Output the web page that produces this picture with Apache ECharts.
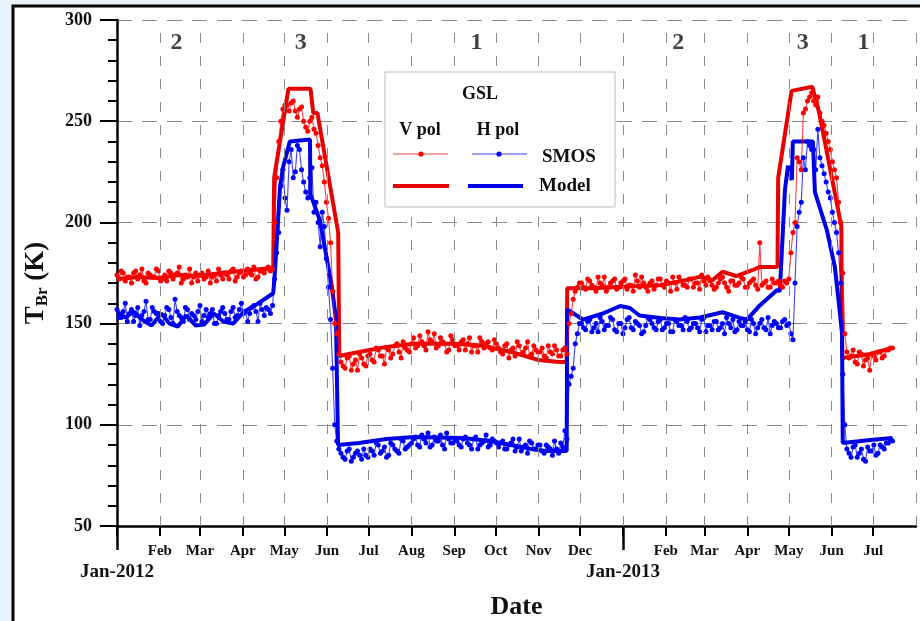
<!DOCTYPE html>
<html>
<head>
<meta charset="utf-8">
<title>GSL TBr</title>
<script src="https://cdn.jsdelivr.net/npm/echarts@6/dist/echarts.min.js"></script>
<style>
  html, body { margin: 0; padding: 0; background: #eaf3fb; }
  #main { width: 920px; height: 621px; }
</style>
</head>
<body>
<div id="main"></div>
<script>
// days are counted from 2012-01-01
var T0 = new Date(2012, 0, 1).getTime();
var DAY = 86400000;
function t(d) { return T0 + d * DAY; }
function ts(s) { var p = s.split('-'); return new Date(+p[0], p[1] - 1, +p[2]).getTime(); }

var monthTicks = ['2012-01-01','2012-02-01','2012-03-01','2012-04-01','2012-05-01','2012-06-01','2012-07-01',
  '2012-08-01','2012-09-01','2012-10-01','2012-11-01','2012-12-01','2013-01-01','2013-02-01','2013-03-01',
  '2013-04-01','2013-05-01','2013-06-01','2013-07-01'];
var tickLabels = ['','Feb','Mar','Apr','May','Jun','Jul','Aug','Sep','Oct','Nov','Dec',
  '','Feb','Mar','Apr','May','Jun','Jul'];
var yearTicks = ['2012-01-01', '2013-01-01'];
var yearLabels = ['Jan-2012', 'Jan-2013'];

var regionLabels = ['2', '3', '1', '2', '3', '1'];
var regionDays = [43, 133, 260, 406, 496, 540];

// SMOS observations: pass A every 3 days from day 0, pass B every 3 days from day 1.5
var smosStep = 3;
var smosV = [
  174,176,171,173,175,172,177,170,174,173,176,172,171,175,174,178,172,173,170,175,
  174,172,176,173,171,174,175,172,177,173,176,174,175,178,173,176,177,176,
  200,240,256,258,259,255,256,250,245,252,244,232,220,202,166,145,
  131,128,134,130,127,133,129,135,131,137,134,138,133,139,136,141,137,
  140,138,144,139,146,141,138,143,140,137,142,139,141,137,143,139,136,141,140,138,142,
  138,135,140,137,134,139,136,141,135,137,136,134,139,135,137,134,138,
  150,162,168,
  170,167,171,168,173,169,166,170,172,168,171,167,169,174,168,170,166,171,169,172,
  168,170,173,167,171,169,172,168,170,174,169,171,167,170,173,168,171,169,170,172,
  168,171,169,190,170,168,172,
  170,169,171,172,195,232,226,256,262,260,262,250,244,236,226,210,175,
  136,134,131,136,129,133,135,132,136,134,137,138
];
var smosVb = [
  172,175,173,170,176,174,171,175,173,177,171,174,176,172,175,170,174,177,173,171,
  175,173,170,174,177,172,174,176,171,175,173,177,174,172,176,175,178,177,
  222,250,258,255,260,252,257,247,250,246,238,228,210,190,150,135,
  129,133,127,132,135,130,134,132,138,134,130,137,135,140,133,138,136,
  143,139,141,137,142,145,139,141,136,144,139,137,142,140,136,139,143,138,141,137,140,
  136,139,133,138,141,135,138,134,139,136,138,133,136,139,134,137,135,
  155,166,170,
  168,172,169,166,170,173,168,171,167,170,172,169,166,171,173,168,170,167,172,169,
  171,166,170,173,169,168,172,170,167,171,173,169,168,172,170,166,171,169,173,168,
  170,172,167,169,171,168,170,
  171,168,170,185,200,230,254,260,264,258,254,248,240,230,222,200,145,
  133,137,130,135,132,127,134,136,133,137,138
];
var smosH = [
  157,153,160,155,151,158,154,161,152,156,155,150,158,153,162,154,151,157,155,152,
  159,154,153,157,150,156,155,152,158,154,160,156,155,159,151,157,158,155,
  172,195,226,206,236,225,236,220,212,227,210,188,198,168,128,92,
  86,83,88,84,87,83,85,88,85,90,87,84,91,88,86,92,89,
  91,94,89,93,96,90,92,95,88,93,91,92,89,94,90,93,88,91,95,90,92,
  89,92,88,91,87,93,89,86,91,88,90,86,89,85,88,91,97,
  120,128,145,
  150,147,152,148,146,151,149,153,147,150,145,152,148,151,149,146,153,150,147,152,
  148,150,146,151,149,153,147,150,148,152,146,149,151,147,150,153,148,146,151,149,
  147,152,145,150,148,153,149,
  150,148,152,150,142,198,210,226,238,236,246,228,220,212,200,185,125,
  88,84,90,86,83,89,87,85,90,88,91,92
];
var smosHb = [
  153,156,151,157,154,149,156,152,158,155,151,154,157,150,156,153,158,152,154,156,
  151,157,155,150,154,158,152,156,153,157,155,151,158,156,160,154,157,159,
  185,218,212,230,222,238,226,215,222,205,200,205,182,152,100,88,
  84,87,82,86,85,88,84,87,91,86,89,85,90,87,93,88,90,
  93,90,95,91,89,94,92,90,96,91,93,90,93,91,88,94,90,92,89,93,91,
  91,88,90,93,89,87,90,92,88,90,87,90,88,92,86,89,93,
  124,140,150,
  148,151,146,150,153,147,149,152,146,150,148,153,147,150,145,149,152,148,151,147,
  150,146,152,149,147,151,148,150,146,153,149,147,151,148,145,150,152,147,149,151,
  146,150,148,152,147,145,151,
  148,151,149,145,170,205,232,240,236,226,232,224,215,205,195,170,100,
  86,89,84,88,82,87,90,86,89,91,93
];

// model curves (day, value)
var modelVDays = [0,15,30,45,60,75,90,105,113,
  113.7,124,140,142,145,160,160.8,
  175,195,215,245,265,285,305,320,325.3,
  325.7,344,369,393,412,422,431,438,448,460,465,477.8,
  478.3,488,503,508,524,524.6,
  545,561];
var modelV = [172,173,172.5,174,173.5,175,176,177,177.5,
  222,266,266,254,254,195,134,
  136,138.5,140,140,139,136,132,131,131,
  167.5,167.5,168.3,169,171.5,173.2,171.5,175.6,173.5,176.5,178,178,
  222,265,267,254,198,133,
  135,138];
var modelHDays = [0,6,12,18,25,32,38,44,50,57,63,70,77,84,92,100,113,
  114.3,117.9,120,125,139.6,139.9,146.8,155.5,158.4,159.9,
  175,195,215,250,270,285,300,310,325.3,
  325.7,337,351.5,364,371,378,393,407,421.7,438,450.6,455.7,465,477.5,
  479.5,483.2,485.4,488.2,488.9,503.4,504.9,513.6,519.3,523,524.5,525,
  545,561];
var modelH = [156,153,156,152,149,155,150,148.5,154,149,149.5,155,151,150,156,159,165,
  176,217,227,240,241,214,201,168,152,90,
  91,93,94,93.5,92,90,88,87,87,
  157,152,155,158.7,157.7,154,152.8,152,153,155.6,152.8,152,159,166.6,
  166,216,228,221,240,240,215,196,178,155,145,91,
  92.5,93.5];

var FONT = "'Liberation Serif', 'DejaVu Serif', serif";
var monthVals = monthTicks.map(ts);
var yearVals = yearTicks.map(ts);
var xMin = ts('2012-01-01'), xMax = ts('2013-08-01');

function pairs(days, vals) {
  return vals.map(function (v, i) { return [t(days[i]), v]; });
}
function smosSeries(a, b) {
  var out = a.map(function (v, i) { return [t(i * smosStep), v]; });
  b.forEach(function (v, i) { out.push([t(i * smosStep + 1.5), v]); });
  out.sort(function (p, q) { return p[0] - q[0]; });
  return out;
}

var myChart = echarts.init(document.getElementById('main'), null, { renderer: 'canvas' });

var option = {
  animation: false,
  backgroundColor: 'transparent',
  grid: { left: 117, right: 4, top: 20, bottom: 95, outerBoundsMode: 'none', containLabel: false },
  xAxis: [{
    type: 'value',
    min: xMin,
    max: xMax,
    axisLine: { show: true, onZero: false, lineStyle: { color: '#000', width: 2.5 } },
    axisTick: { show: true, customValues: monthVals, length: 10, lineStyle: { color: '#000', width: 2 } },
    axisLabel: {
      customValues: monthVals,
      showMinLabel: true,
      margin: 18,
      color: '#111',
      fontFamily: FONT,
      fontWeight: 'bold',
      fontSize: 15,
      hideOverlap: false,
      formatter: function (val) {
        var k = monthVals.indexOf(val);
        return k >= 0 ? tickLabels[k] : '';
      }
    },
    splitLine: { show: false },
    name: 'Date',
    nameLocation: 'middle',
    nameGap: 68,
    nameTextStyle: { fontSize: 26, fontWeight: 'bold', fontFamily: FONT, color: '#111' }
  }, {
    type: 'value',
    min: xMin,
    max: xMax,
    position: 'bottom',
    axisLine: { show: false, onZero: false },
    axisTick: { show: true, customValues: yearVals, length: 24, lineStyle: { color: '#000', width: 2.5 } },
    axisLabel: {
      customValues: yearVals,
      showMinLabel: true,
      margin: 37,
      color: '#111',
      fontFamily: FONT,
      fontWeight: 'bold',
      fontSize: 19,
      hideOverlap: false,
      formatter: function (val) {
        var k = yearVals.indexOf(val);
        return k >= 0 ? yearLabels[k] : '';
      }
    },
    splitLine: { show: false }
  }],
  yAxis: {
    type: 'value',
    min: 50,
    max: 300,
    interval: 50,
    axisLine: { show: true, lineStyle: { color: '#000', width: 2.5 } },
    axisTick: { show: true, length: 17, lineStyle: { color: '#000', width: 2 } },
    minorTick: { show: true, splitNumber: 5, length: 9, lineStyle: { color: '#000', width: 2 } },
    axisLabel: { margin: 25, color: '#111', fontFamily: FONT, fontWeight: 'bold', fontSize: 18 },
    splitLine: { show: true, lineStyle: { color: '#8a8a8a', width: 1, type: [15, 10] } },
    name: '{a|T}{b|Br}{a| (K)}',
    nameLocation: 'middle',
    nameRotate: 90,
    nameGap: 66,
    nameTextStyle: {
      padding: [0, 20, 0, 0],
      rich: {
        a: { fontSize: 27, fontWeight: 'bold', fontFamily: FONT, color: '#111', lineHeight: 30 },
        b: { fontSize: 17, fontWeight: 'bold', fontFamily: FONT, color: '#111', lineHeight: 14, verticalAlign: 'bottom' }
      }
    }
  },
  series: [{
    name: 'Model V',
    type: 'line',
    data: pairs(modelVDays, modelV),
    symbol: 'none',
    lineStyle: { color: '#e60000', width: 4 },
    z: 3,
    markLine: {
      silent: true,
      symbol: 'none',
      label: { show: false },
      lineStyle: { color: '#8a8a8a', width: 1, type: [10, 13] },
      data: monthVals.slice(1).concat([xMax]).map(function (v) { return { xAxis: v }; })
    }
  }, {
    name: 'Model H',
    type: 'line',
    data: pairs(modelHDays, modelH),
    symbol: 'none',
    lineStyle: { color: '#0000e6', width: 4 },
    z: 3
  }, {
    name: 'SMOS V',
    type: 'line',
    data: smosSeries(smosV, smosVb),
    symbol: 'circle',
    symbolSize: 5,
    showAllSymbol: true,
    itemStyle: { color: '#ff0000' },
    lineStyle: { color: 'rgba(255,0,0,0.75)', width: 1.1 },
    z: 4
  }, {
    name: 'SMOS H',
    type: 'line',
    data: smosSeries(smosH, smosHb),
    symbol: 'circle',
    symbolSize: 5,
    showAllSymbol: true,
    itemStyle: { color: '#0000ff' },
    lineStyle: { color: 'rgba(0,0,255,0.75)', width: 1.1 },
    z: 4
  }, {
    name: 'regions',
    type: 'scatter',
    symbolSize: 0,
    silent: true,
    data: regionLabels.map(function (s, i) { return [t(regionDays[i]), 288.6]; }),
    label: {
      show: true,
      position: 'inside',
      formatter: function (p) { return regionLabels[p.dataIndex]; },
      fontSize: 24, fontWeight: 'bold', fontFamily: FONT, color: '#111'
    }
  }],
  graphic: [
    { type: 'rect', z: -100, shape: { x: 0, y: 0, width: 920, height: 621 }, style: { fill: '#e9f3fc' } },
    { type: 'rect', z: -99, shape: { x: 13, y: 6, width: 930, height: 640 }, style: { fill: '#fff', stroke: '#000', lineWidth: 3 } },
    // legend box
    { type: 'rect', z: 100, shape: { x: 385, y: 72, width: 230, height: 135 }, style: { fill: '#fff', stroke: '#bbb', lineWidth: 1 } },
    { type: 'text', z: 101, x: 480, y: 94, style: { text: 'GSL', font: 'bold 18px ' + FONT, fill: '#111', align: 'center', verticalAlign: 'middle' } },
    { type: 'text', z: 101, x: 420, y: 130, style: { text: 'V pol', font: 'bold 18px ' + FONT, fill: '#111', align: 'center', verticalAlign: 'middle' } },
    { type: 'text', z: 101, x: 498, y: 130, style: { text: 'H pol', font: 'bold 18px ' + FONT, fill: '#111', align: 'center', verticalAlign: 'middle' } },
    { type: 'line', z: 101, shape: { x1: 393, y1: 154, x2: 448, y2: 154 }, style: { stroke: '#f08080', lineWidth: 1.5 } },
    { type: 'circle', z: 102, shape: { cx: 421, cy: 154, r: 2.6 }, style: { fill: '#ff0000' } },
    { type: 'line', z: 101, shape: { x1: 472, y1: 154, x2: 527, y2: 154 }, style: { stroke: '#8080f0', lineWidth: 1.5 } },
    { type: 'circle', z: 102, shape: { cx: 499, cy: 154, r: 2.6 }, style: { fill: '#0000ff' } },
    { type: 'text', z: 101, x: 542, y: 157, style: { text: 'SMOS', font: 'bold 19px ' + FONT, fill: '#111', align: 'left', verticalAlign: 'middle' } },
    { type: 'line', z: 101, shape: { x1: 393, y1: 186, x2: 449, y2: 186 }, style: { stroke: '#e60000', lineWidth: 4 } },
    { type: 'line', z: 101, shape: { x1: 468, y1: 186, x2: 523, y2: 186 }, style: { stroke: '#0000e6', lineWidth: 4 } },
    { type: 'text', z: 101, x: 539, y: 186, style: { text: 'Model', font: 'bold 19px ' + FONT, fill: '#111', align: 'left', verticalAlign: 'middle' } }
  ]
};

myChart.setOption(option);
</script>
</body>
</html>
